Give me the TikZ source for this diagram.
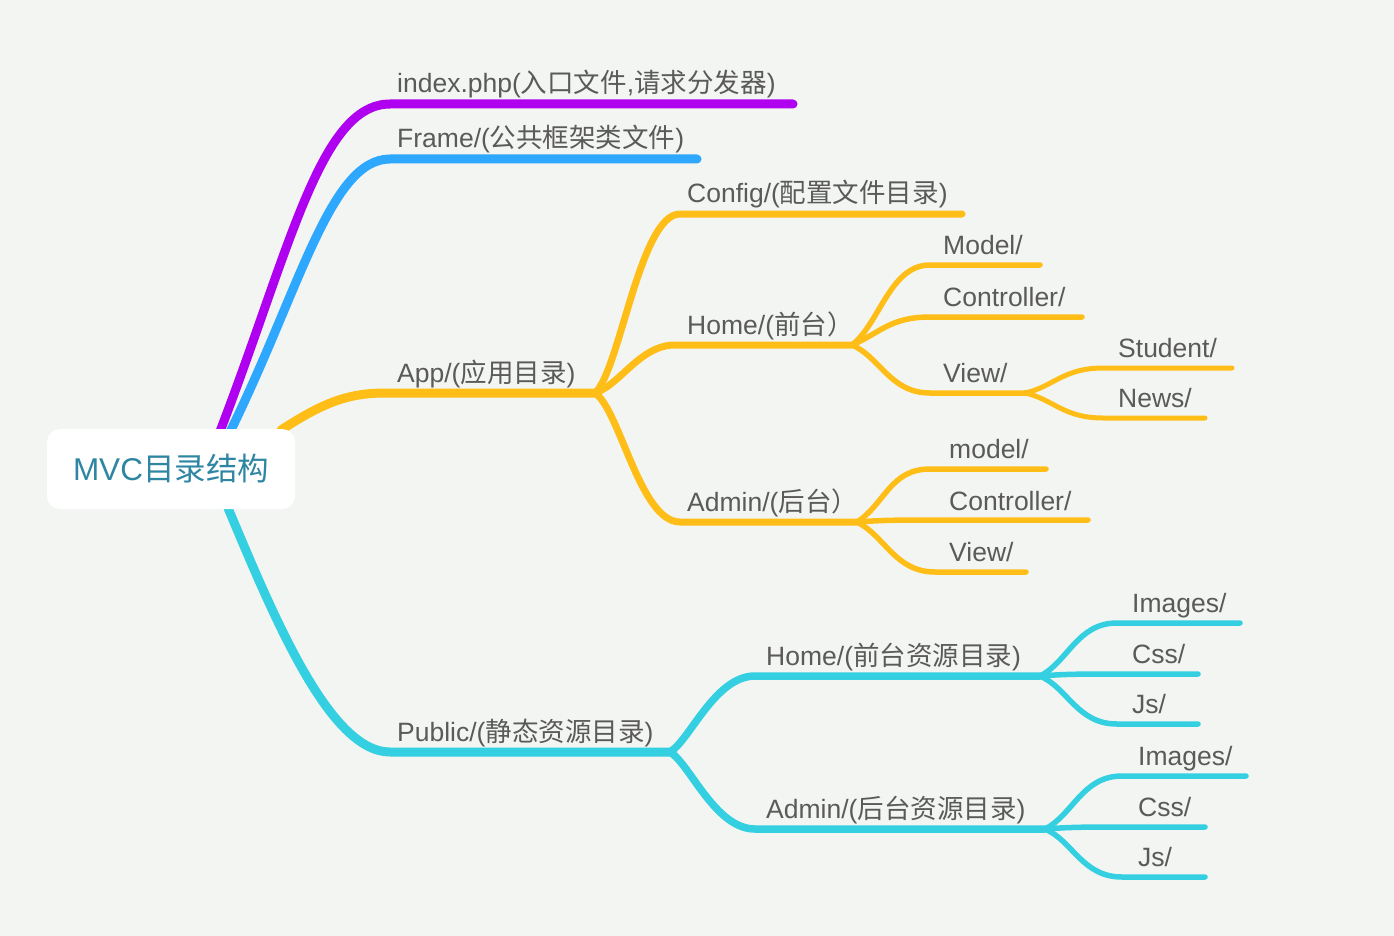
\documentclass[tikz,border=0pt]{standalone}
\usepackage{fontspec}
\setmainfont{Liberation Sans}
\newfontfamily\cjk{Noto Sans CJK SC}
\newcommand\zh[1]{{\cjk #1}}
\definecolor{bgc}{HTML}{F3F5F2}
\definecolor{cpur}{HTML}{B000F0}
\definecolor{cblu}{HTML}{2EA8FF}
\definecolor{cyel}{HTML}{FFBE17}
\definecolor{ccya}{HTML}{34CFE0}
\definecolor{ctxt}{HTML}{5A5A5A}
\definecolor{croot}{HTML}{2F86A2}
\pgfdeclarelayer{bg}\pgfsetlayers{bg,main}
\tikzset{
  lbl/.style={anchor=base west, inner sep=0pt, text=ctxt, font=\fontsize{26.5}{30}\selectfont},
  rootbox/.style={fill=white, rounded corners=13pt, minimum width=248pt, minimum height=80pt, inner sep=0pt, text=croot},
  br/.style={line cap=round, line join=round},
  l1/.style={br, line width=9pt},
  l2/.style={br, line width=7pt},
  l3/.style={br, line width=5.5pt},
  l4/.style={br, line width=5pt},
}
\begin{document}
\begin{tikzpicture}[x=1pt,y=-1pt]
\begin{pgfonlayer}{bg}
\fill[bgc] (0,0) rectangle (1394,936);
\end{pgfonlayer}
\useasboundingbox (0,0) rectangle (1394,936);

% root
\node[rootbox] (root) at (171,469) {\fontsize{31.5}{36}\selectfont MVC\zh{目录结构}};

% labels
\node[lbl] (idx) at (397,93) {index.php(\zh{入口文件},\zh{请求分发器})};
\node[lbl] (frame) at (397,148) {Frame/(\zh{公共框架类文件})};
\node[lbl] (app) at (397,382) {App/(\zh{应用目录})};
\node[lbl] (pub) at (397,741) {Public/(\zh{静态资源目录})};
\node[lbl] (config) at (687,203) {Config/(\zh{配置文件目录})};
\node[lbl] (home) at (687,334) {Home/(\zh{前台）}};
\node[lbl] (admin) at (687,511) {Admin/(\zh{后台）}};
\node[lbl] (hmodel) at (943,254) {Model/};
\node[lbl] (hctrl) at (943,306) {Controller/};
\node[lbl] (hview) at (943,382) {View/};
\node[lbl] (student) at (1118,357) {Student/};
\node[lbl] (news) at (1118,407) {News/};
\node[lbl] (amodel) at (949,458) {model/};
\node[lbl] (actrl) at (949,510) {Controller/};
\node[lbl] (aview) at (949,561) {View/};
\node[lbl] (phome) at (766,665) {Home/(\zh{前台资源目录})};
\node[lbl] (padmin) at (766,818) {Admin/(\zh{后台资源目录})};
\node[lbl] (phimg) at (1132,612) {Images/};
\node[lbl] (phcss) at (1132,663) {Css/};
\node[lbl] (phjs) at (1132,713) {Js/};
\node[lbl] (paimg) at (1138,765) {Images/};
\node[lbl] (pacss) at (1138,816) {Css/};
\node[lbl] (pajs) at (1138,866) {Js/};

% coordinates: starts on root, forks, line ends
\coordinate (r-pur) at (219,434);
\coordinate (r-blu) at (229,434);
\coordinate (r-yel) at (281,430);
\coordinate (r-cya) at (228,508);
\coordinate (idx-h) at (390,104);   \coordinate (idx-e) at (793,104);
\coordinate (frame-h) at (390,159); \coordinate (frame-e) at (697,159);
\coordinate (app-h) at (385,393);   \coordinate (app-f) at (595,393);
\coordinate (pub-h) at (390,752);   \coordinate (pub-f) at (670,752);
\coordinate (config-h) at (680,214); \coordinate (config-e) at (962,214);
\coordinate (home-h) at (675,345);  \coordinate (home-f) at (852,345);
\coordinate (admin-h) at (680,522); \coordinate (admin-f) at (857,522);
\coordinate (hmodel-h) at (930,265); \coordinate (hmodel-e) at (1040,265);
\coordinate (hctrl-h) at (930,317);  \coordinate (hctrl-e) at (1082,317);
\coordinate (hview-h) at (930,393);  \coordinate (hview-f) at (1025,393);
\coordinate (student-h) at (1103,368); \coordinate (student-e) at (1232,368);
\coordinate (news-h) at (1103,418);  \coordinate (news-e) at (1205,418);
\coordinate (amodel-h) at (930,469); \coordinate (amodel-e) at (1046,469);
\coordinate (actrl-h) at (935,520);  \coordinate (actrl-e) at (1088,520);
\coordinate (aview-h) at (935,572);  \coordinate (aview-e) at (1026,572);
\coordinate (phome-h) at (755,676);  \coordinate (phome-f) at (1040,676);
\coordinate (padmin-h) at (755,829); \coordinate (padmin-f) at (1045,829);
\coordinate (phimg-h) at (1117,623); \coordinate (phimg-e) at (1240,623);
\coordinate (phcss-h) at (1115,674); \coordinate (phcss-e) at (1198,674);
\coordinate (phjs-h) at (1117,724);  \coordinate (phjs-e) at (1198,724);
\coordinate (paimg-h) at (1122,776); \coordinate (paimg-e) at (1246,776);
\coordinate (pacss-h) at (1120,827); \coordinate (pacss-e) at (1205,827);
\coordinate (pajs-h) at (1122,877);  \coordinate (pajs-e) at (1205,877);

\begin{pgfonlayer}{bg}
% level 1
\draw[l1,cpur] (r-pur) .. controls (290,250) and (320,104) .. (idx-h) -- (idx-e);
\draw[l1,cblu] (r-blu) .. controls (300,290) and (330,159) .. (frame-h) -- (frame-e);
\draw[l1,cyel] (r-yel) .. controls (320,405) and (345,393) .. (app-h) -- (app-f);
\draw[l1,ccya] (r-cya) .. controls (275,620) and (330,752) .. (pub-h) -- (pub-f);
% level 2 (App)
\draw[l2,cyel] (app-f) .. controls +(25,-23) and +(-40,0) .. (config-h) -- (config-e);
\draw[l2,cyel] (app-f) .. controls +(25,-8) and +(-35,0) .. (home-h) -- (home-f);
\draw[l2,cyel] (app-f) .. controls +(25,17) and +(-40,0) .. (admin-h) -- (admin-f);
% level 3 (Home)
\draw[l3,cyel] (home-f) .. controls +(28,-22) and +(-40,0) .. (hmodel-h) -- (hmodel-e);
\draw[l3,cyel] (home-f) .. controls +(28,-12) and +(-40,0) .. (hctrl-h) -- (hctrl-e);
\draw[l3,cyel] (home-f) .. controls +(28,12) and +(-40,0) .. (hview-h) -- (hview-f);
% level 4 (View)
\draw[l4,cyel] (hview-f) .. controls +(28,-6) and +(-40,0) .. (student-h) -- (student-e);
\draw[l4,cyel] (hview-f) .. controls +(28,6) and +(-40,0) .. (news-h) -- (news-e);
% level 3 (Admin)
\draw[l3,cyel] (admin-f) .. controls +(28,-18) and +(-40,0) .. (amodel-h) -- (amodel-e);
\draw[l3,cyel] (admin-f) .. controls +(25,-2) and +(-30,0) .. (actrl-h) -- (actrl-e);
\draw[l3,cyel] (admin-f) .. controls +(28,14) and +(-40,0) .. (aview-h) -- (aview-e);
% level 2 (Public)
\draw[l2,ccya,line width=7.5pt] (pub-f) .. controls +(20,-12) and +(-40,0) .. (phome-h) -- (phome-f);
\draw[l2,ccya,line width=7.5pt] (pub-f) .. controls +(20,12) and +(-40,0) .. (padmin-h) -- (padmin-f);
% level 3 (Public/Home)
\draw[l3,ccya] (phome-f) .. controls +(28,-14) and +(-40,0) .. (phimg-h) -- (phimg-e);
\draw[l3,ccya] (phome-f) .. controls +(25,-2) and +(-30,0) .. (phcss-h) -- (phcss-e);
\draw[l3,ccya] (phome-f) .. controls +(28,12) and +(-40,0) .. (phjs-h) -- (phjs-e);
% level 3 (Public/Admin)
\draw[l3,ccya] (padmin-f) .. controls +(28,-14) and +(-40,0) .. (paimg-h) -- (paimg-e);
\draw[l3,ccya] (padmin-f) .. controls +(25,-2) and +(-30,0) .. (pacss-h) -- (pacss-e);
\draw[l3,ccya] (padmin-f) .. controls +(28,12) and +(-40,0) .. (pajs-h) -- (pajs-e);
\end{pgfonlayer}
\end{tikzpicture}
\end{document}
